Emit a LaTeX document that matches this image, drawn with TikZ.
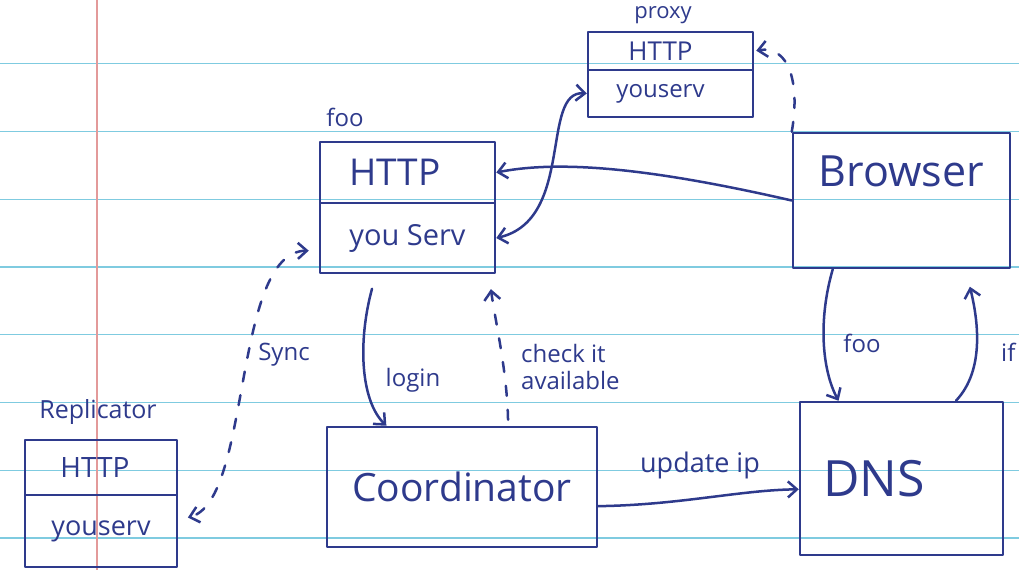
\documentclass[tikz,border=0pt]{standalone}
\usepackage{fontspec}
\setmainfont{Open Sans}
\usetikzlibrary{arrows.meta}
\definecolor{ink}{HTML}{2E3A8C}
\definecolor{rulecol}{HTML}{7FCBE0}
\definecolor{margincol}{HTML}{E39A9A}
\tikzset{
  inkline/.style={draw=ink, line width=2.5pt, line join=round, line cap=round},
  box/.style={inkline, rectangle, inner sep=0pt, text=ink, align=center},
  arr/.style={inkline, -{Straight Barb[length=9pt,width=16pt]}},
  darr/.style={inkline, {Straight Barb[length=9pt,width=16pt]}-{Straight Barb[length=9pt,width=16pt]}},
  dsh/.style={dash pattern=on 10pt off 14pt},
  lbl/.style={text=ink, font=\fontsize{24}{27}\selectfont, inner sep=1pt, align=left},
  paperline/.style={draw=rulecol, line width=1.4pt},
}
\begin{document}
\begin{tikzpicture}[x=1pt,y=-1pt]
\useasboundingbox[fill=white] (0,0) rectangle (1019,570);
% lined paper
\foreach \k in {1,...,8}{
  \draw[paperline] (0,{-4+67.75*\k}) -- (1019,{-4+67.75*\k});
}
\draw[draw=margincol, line width=1.3pt] (97,0) -- (97,570);

% proxy
\node[box, minimum width=165pt, minimum height=38pt, font=\fontsize{26}{28}\selectfont] (proxyHTTP) at (670.5,51) {HTTP\hspace*{20pt}};
\node[box, minimum width=165pt, minimum height=47pt, font=\fontsize{24}{26}\selectfont] (proxyServ) at (670.5,93.5) {youserv\hspace*{20pt}};
\node[lbl, font=\fontsize{22}{24}\selectfont] (proxyLbl) at (663,15) {proxy};

% foo
\node[box, minimum width=175pt, minimum height=61pt, font=\fontsize{37}{40}\selectfont] (fooHTTP) at (407.5,172.5) {HTTP\hspace*{25pt}};
\node[box, minimum width=175pt, minimum height=70pt, font=\fontsize{29}{32}\selectfont] (fooServ) at (407.5,238) {you Serv};
\node[lbl] (fooLbl) at (345,117) {foo};

% Browser
\node[box, minimum width=217pt, minimum height=135pt, font=\fontsize{43}{46}\selectfont] (Browser) at (901.5,200.5) {Browser\\[12pt]};

% DNS
\node[box, minimum width=203pt, minimum height=153pt, font=\fontsize{50}{54}\selectfont] (DNS) at (901.5,478.5) {DNS\hspace*{55pt}};

% Coordinator
\node[box, minimum width=270pt, minimum height=120pt, font=\fontsize{39}{42}\selectfont] (Coord) at (462,487) {Coordinator};

% Replicator
\node[box, minimum width=152pt, minimum height=55pt, font=\fontsize{28}{30}\selectfont] (replHTTP) at (101,467.5) {HTTP\hspace*{12pt}};
\node[box, minimum width=152pt, minimum height=72pt, font=\fontsize{27}{29}\selectfont] (replServ) at (101,531) {youserv};
\node[lbl, font=\fontsize{25}{27}\selectfont] (replLbl) at (98,412) {Replicator};

% connectors
\draw[arr] (Browser.west) .. controls (650,168) and (560,160) .. (fooHTTP.east);
\draw[darr] (proxyServ.west) .. controls (540,90) and (575,220) .. (fooServ.east);
\draw[arr, dsh, shorten >=2pt] (Browser.north west) .. controls (800,85) and (790,45) .. (proxyHTTP.east);

\draw[arr] (Browser.225) .. controls (818,320) and (822,370) .. (DNS.129);
\node[lbl] (lblFoo) at (862,343) {foo};

\draw[arr, shorten >=18pt] (DNS.55) .. controls (985,370) and (978,320) .. (Browser.313);
\node[lbl, anchor=west] (lblIf) at (1000,352) {if};

\draw[arr, shorten <=15pt] (fooServ.229) .. controls (358,340) and (360,400) .. (Coord.141);
\node[lbl] (lblLogin) at (413,380) {login};

\draw[arr, dsh, shorten >=15pt, shorten <=6pt] (Coord.53) .. controls (507,370) and (495,320) .. (fooServ.336);
\node[lbl, anchor=west] (lblCheck) at (520,367) {check it\\ available};

\draw[darr, dsh, shorten >=10pt, shorten <=10pt] (fooServ.188) .. controls (232,252) and (252,500) .. (replServ.8);
\node[lbl] (lblSync) at (284,355) {Sync};

\draw[arr] (Coord.-8) .. controls (680,505) and (740,490) .. (DNS.186);
\node[lbl, font=\fontsize{27}{30}\selectfont] (lblUpd) at (700,465) {update ip};
\end{tikzpicture}
\end{document}
